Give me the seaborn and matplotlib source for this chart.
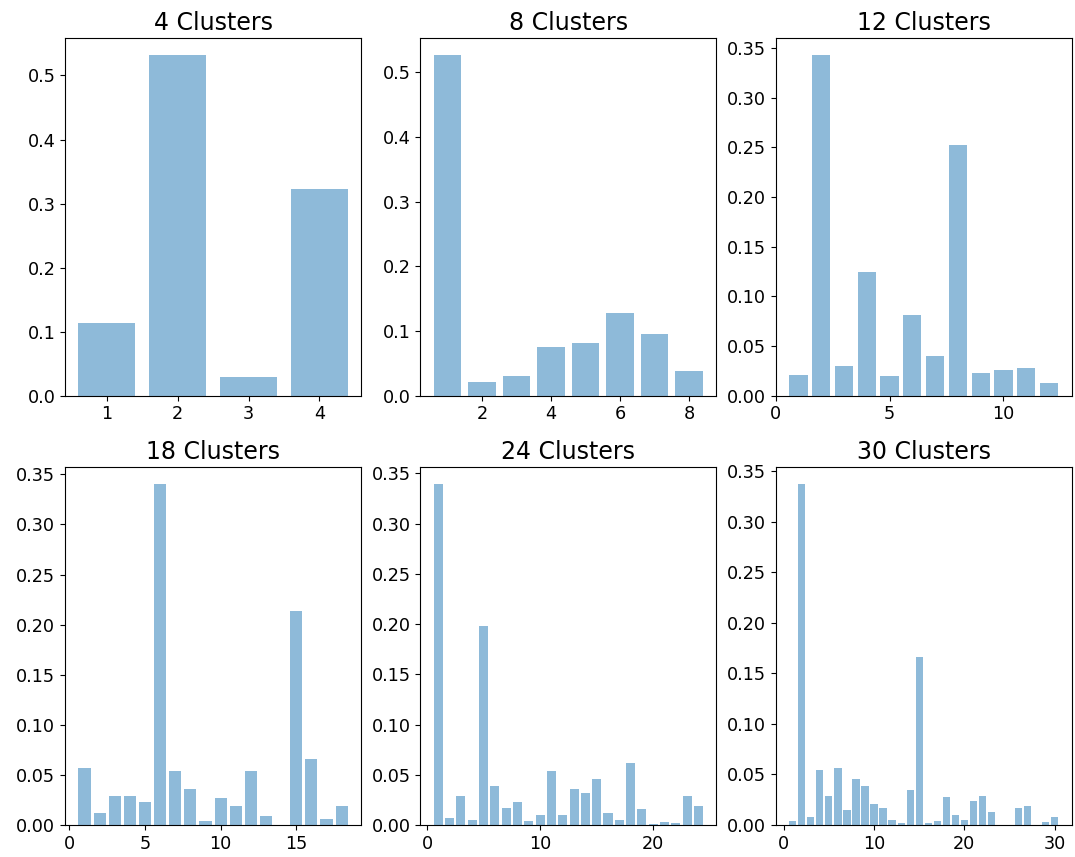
import matplotlib
matplotlib.use("Agg")
import matplotlib.pyplot as plt
import numpy as np
import pandas as pd
import seaborn as sns

# share of points in each cluster
k4 = [0.114, 0.532, 0.030, 0.322]
k8 = [0.527, 0.021, 0.031, 0.076, 0.081, 0.128, 0.095, 0.038]
k12 = [0.021, 0.343, 0.030, 0.125, 0.020, 0.081, 0.040, 0.252, 0.023, 0.026, 0.028, 0.013]
k18 = [0.057, 0.012, 0.029, 0.029, 0.023, 0.340, 0.054, 0.036, 0.004, 0.027,
       0.019, 0.054, 0.009, 0.0, 0.214, 0.066, 0.006, 0.019]
k24 = [0.339, 0.007, 0.029, 0.005, 0.198, 0.039, 0.017, 0.023, 0.004, 0.010,
       0.054, 0.010, 0.036, 0.032, 0.046, 0.012, 0.005, 0.062, 0.016, 0.001,
       0.003, 0.002, 0.029, 0.019]
k30 = [0.004, 0.337, 0.008, 0.054, 0.029, 0.056, 0.015, 0.046, 0.039, 0.021,
       0.017, 0.005, 0.002, 0.035, 0.166, 0.002, 0.004, 0.028, 0.010, 0.005,
       0.024, 0.029, 0.013, 0.0, 0.0, 0.017, 0.019, 0.0, 0.003, 0.008]

panels = [(4, k4), (8, k8), (12, k12), (18, k18), (24, k24), (30, k30)]

plt.rcParams['font.size'] = 12.7

fig, axes = plt.subplots(2, 3, figsize=(10.75, 8.57), dpi=100)
fig.subplots_adjust(left=0.0605, right=0.997, top=0.9557, bottom=0.0373,
                    wspace=0.2, hspace=0.2)

for ax, (n, vals) in zip(axes.flat, panels):
    df = pd.DataFrame({'cluster': np.arange(1, n + 1), 'share': vals})
    sns.barplot(data=df, x='cluster', y='share', native_scale=True, ax=ax,
                color='C0', alpha=0.5, saturation=1, width=0.8)
    ax.set_title(f'{n} Clusters', fontsize=17)
    ax.set_xlabel('')
    ax.set_ylabel('')
    ax.margins(x=0.05)
    ax.autoscale_view()
    if n == 12:
        # the 0 tick sits right on the spine in the original
        ax.set_xlim(0, 13)

fig.savefig('out.png', dpi=100)
